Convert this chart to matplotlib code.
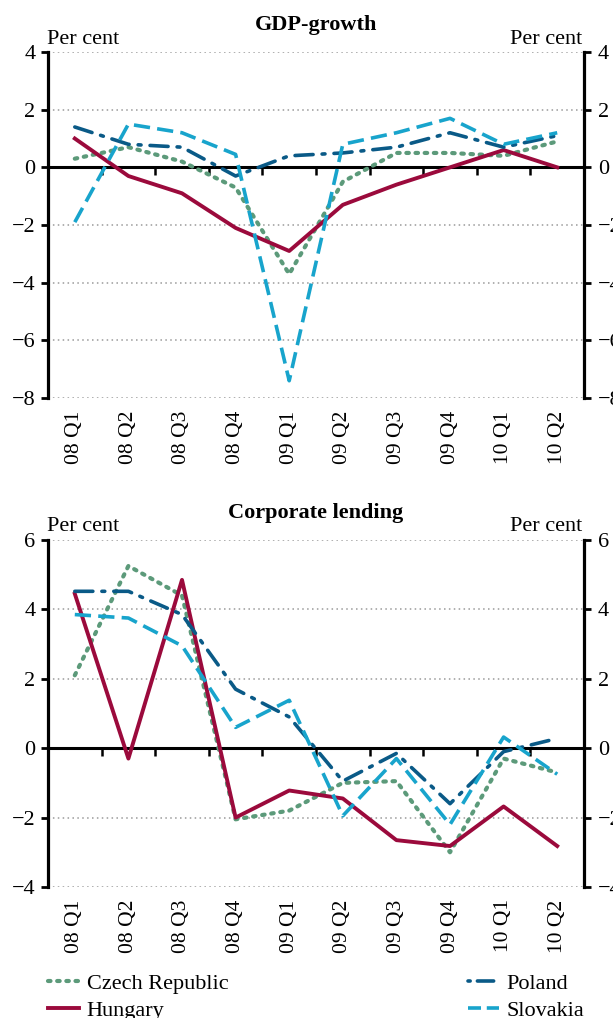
import numpy as np
import matplotlib
matplotlib.use('Agg')
import matplotlib.pyplot as plt
from matplotlib.lines import Line2D

plt.rcParams['font.family'] = ['Liberation Serif', 'DejaVu Serif']

quarters = ['08 Q1', '08 Q2', '08 Q3', '08 Q4', '09 Q1',
            '09 Q2', '09 Q3', '09 Q4', '10 Q1', '10 Q2']

# GDP-growth, per cent
gdp_czech = [0.3, 0.7, 0.2, -0.7, -3.7, -0.5, 0.5, 0.5, 0.4, 0.9]
gdp_hungary = [1.0, -0.3, -0.9, -2.1, -2.9, -1.3, -0.6, 0.0, 0.6, 0.0]
gdp_poland = [1.4, 0.8, 0.7, -0.3, 0.4, 0.5, 0.7, 1.2, 0.7, 1.1]
gdp_slovakia = [-1.9, 1.5, 1.2, 0.45, -7.4, 0.8, 1.2, 1.7, 0.8, 1.2]

# Corporate lending, per cent
cl_czech = [2.1, 5.25, 4.4, -2.05, -1.8, -1.0, -0.95, -3.0, -0.3, -0.7]
cl_hungary = [4.45, -0.3, 4.85, -2.0, -1.22, -1.45, -2.65, -2.82, -1.68, -2.82]
cl_poland = [4.52, 4.52, 3.85, 1.7, 0.9, -0.95, -0.15, -1.6, -0.1, 0.28]
cl_slovakia = [3.85, 3.75, 2.95, 0.6, 1.38, -1.95, -0.3, -2.2, 0.32, -0.75]

green = '#5c9a7a'
red = '#9b0a3c'
dblue = '#0a5a87'
lblue = '#18a4cc'

styles = {
    'Czech Republic': dict(color=green, lw=3.0, ls=(0, (0.6, 1.6)), dash_capstyle='round'),
    'Hungary': dict(color=red, lw=2.8, ls='-'),
    'Poland': dict(color=dblue, lw=2.6, ls=(0, (5, 2.5, 0.8, 2.5)), dash_capstyle='round'),
    'Slovakia': dict(color=lblue, lw=2.6, ls=(0, (4.5, 2))),
}
legend_ls = {'Poland': (0, (0.6, 2.0, 4.5, 2.0)), 'Slovakia': (0, (3.6, 1.6))}

fig = plt.figure(figsize=(6.13, 10.18), dpi=100)
ax_top = fig.add_axes([0.0783, 0.609, 0.8744, 0.3399])
ax_bot = fig.add_axes([0.0783, 0.1287, 0.8744, 0.3409])

x = np.arange(len(quarters))
fs = 16


def fmt(v):
    return str(v).replace('-', '\u2212')


def style_axes(ax, title, ylim, yticks):
    ax.set_xlim(-0.5, len(quarters) - 0.5)
    ax.set_ylim(*ylim)
    ax.set_yticks(yticks)
    ax.set_yticklabels([fmt(v) for v in yticks])
    for y in yticks:
        if y != 0:
            ax.axhline(y, color='#9a9a9a', lw=1.1, ls=(0, (1, 2.2)), zorder=0)
    ax.spines['top'].set_visible(False)
    ax.spines['left'].set_linewidth(2.3)
    ax.spines['right'].set_visible(False)
    ax.spines['bottom'].set_position(('data', 0))
    ax.spines['bottom'].set_linewidth(2.2)
    ax.spines['bottom'].set_zorder(1)
    ax.tick_params(axis='y', direction='out', length=5, width=2, labelsize=fs, pad=4)
    ax.set_xticks([])
    ax.set_xticks(np.arange(0.5, len(quarters) - 1, 1), minor=True)
    ax.tick_params(axis='x', which='minor', direction='out', length=6, width=1.8)

    # right-hand axis copy, its labels run off the edge as in the original
    rax = ax.twinx()
    rax.set_ylim(*ylim)
    rax.set_yticks(yticks)
    rax.set_yticklabels([fmt(v) for v in yticks])
    for side in ['top', 'left', 'bottom']:
        rax.spines[side].set_visible(False)
    rax.spines['right'].set_linewidth(2.3)
    rax.tick_params(axis='y', direction='out', length=5, width=2, labelsize=fs, pad=5)

    sec = ax.secondary_xaxis('bottom')
    sec.set_xticks(x)
    sec.set_xticklabels(quarters, rotation=90)
    sec.tick_params(length=0, pad=9, labelsize=15.5)
    sec.spines['bottom'].set_visible(False)
    ax.text(-0.002, 1.01, 'Per cent', transform=ax.transAxes, ha='left', va='bottom', fontsize=fs)
    ax.text(0.997, 1.01, 'Per cent', transform=ax.transAxes, ha='right', va='bottom', fontsize=fs)
    ax.set_title(title, fontsize=16, fontweight='bold', pad=16)


style_axes(ax_top, 'GDP-growth', (-8, 4), [-8, -6, -4, -2, 0, 2, 4])
style_axes(ax_bot, 'Corporate lending', (-4, 6), [-4, -2, 0, 2, 4, 6])

for name, vals in [('Czech Republic', gdp_czech), ('Hungary', gdp_hungary),
                   ('Poland', gdp_poland), ('Slovakia', gdp_slovakia)]:
    ax_top.plot(x, vals, zorder=3, **styles[name])

for name, vals in [('Czech Republic', cl_czech), ('Hungary', cl_hungary),
                   ('Poland', cl_poland), ('Slovakia', cl_slovakia)]:
    ax_bot.plot(x, vals, zorder=3, **styles[name])


def handles(names):
    out = []
    for n in names:
        kw = dict(styles[n])
        if n in legend_ls:
            kw['ls'] = legend_ls[n]
        out.append(Line2D([], [], **kw))
    return out


left_names = ['Czech Republic', 'Hungary']
right_names = ['Poland', 'Slovakia']
leg_kw = dict(frameon=False, fontsize=fs, handlelength=1.4, handletextpad=0.35,
              labelspacing=0.3, borderpad=0, borderaxespad=0)
fig.legend(handles(left_names), left_names, loc='upper left',
           bbox_to_anchor=(0.078, 0.044), **leg_kw)
fig.legend(handles(right_names), right_names, loc='upper left',
           bbox_to_anchor=(0.763, 0.044), **leg_kw)

fig.savefig('out.png', dpi=100)
